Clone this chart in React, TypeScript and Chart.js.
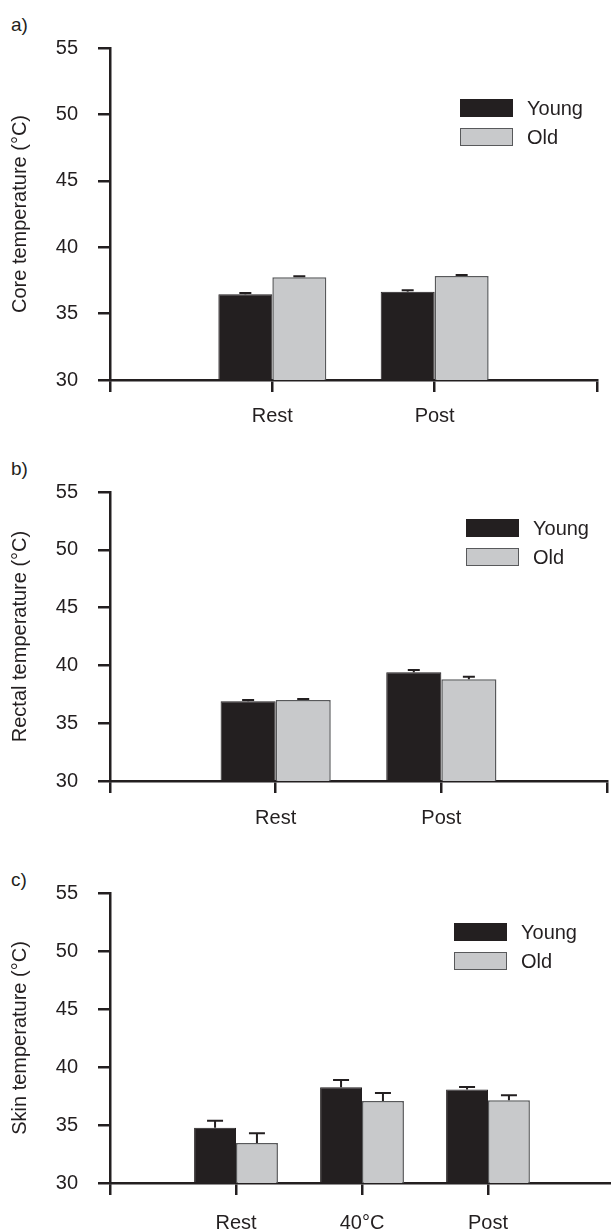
import React, { useEffect, useRef } from 'react';
import { Chart, registerables } from 'chart.js';

Chart.register(...registerables);

// ---------- data ----------
const seriesNames = ['Young', 'Old'];
const yTicks = [30, 35, 40, 45, 50, 55];

const coreCategories = ['Rest', 'Post'];
const coreYoung = [36.45, 36.65];
const coreOld = [37.73, 37.83];
const coreYoungErr = [0.1, 0.1];
const coreOldErr = [0.08, 0.08];

const rectalCategories = ['Rest', 'Post'];
const rectalYoung = [36.9, 39.4];
const rectalOld = [37.0, 38.8];
const rectalYoungErr = [0.1, 0.2];
const rectalOldErr = [0.1, 0.22];

const skinCategories = ['Rest', '40°C', 'Post'];
const skinYoung = [34.77, 38.25, 38.07];
const skinOld = [33.45, 37.06, 37.14];
const skinYoungErr = [0.6, 0.63, 0.2];
const skinOldErr = [0.83, 0.7, 0.43];

// ---------- style ----------
const INK = '#231f20';
const OLD_FILL = '#c8c9cb';
const OLD_BORDER = '#58595b';
const FONT = 'Liberation Sans, Arial, Helvetica, sans-serif';

const errorBarPlugin = {
  id: 'errorBars',
  afterDatasetsDraw(chart: any, _args: any, opts: any) {
    const ctx = chart.ctx;
    const yScale = chart.scales.y;
    const cap = (opts && opts.capWidth) || 14;
    chart.data.datasets.forEach((ds: any, i: number) => {
      const meta = chart.getDatasetMeta(i);
      const errs = ds.errors || [];
      meta.data.forEach((el: any, j: number) => {
        const v = ds.data[j];
        const e = errs[j];
        if (v == null || e == null) return;
        const top = yScale.getPixelForValue(v);
        const end = yScale.getPixelForValue(v + e);
        ctx.save();
        ctx.strokeStyle = INK;
        ctx.lineWidth = 2;
        ctx.beginPath();
        ctx.moveTo(el.x, top);
        ctx.lineTo(el.x, end);
        ctx.moveTo(el.x - cap / 2, end);
        ctx.lineTo(el.x + cap / 2, end);
        ctx.stroke();
        ctx.restore();
      });
    });
  },
};

type PanelProps = {
  letter: string;
  letterTop: number;
  title: string;
  categories: string[];
  young: number[];
  old: number[];
  youngErr: number[];
  oldErr: number[];
  canvasTop: number;
  plotHeight: number;
  canvasWidth: number;
  padRight: number;
  capWidth: number;
  labelPad: number;
  legendLeft: number;
  legendTop: number;
};

const TOP_SPACE = 32; // space Chart.js keeps above the plot area
const X_AXIS_H = 60;
const Y_AXIS_W = 110;

function Panel(p: PanelProps) {
  const ref = useRef<HTMLCanvasElement>(null);
  const height = TOP_SPACE + p.plotHeight + X_AXIS_H;

  useEffect(() => {
    if (!ref.current) return;
    const labels = ['', ...p.categories, ''];
    const pad = (arr: number[]) => [null, ...arr, null];
    const chart = new Chart(ref.current, {
      type: 'bar',
      data: {
        labels,
        datasets: [
          {
            label: seriesNames[0],
            data: pad(p.young) as any,
            errors: pad(p.youngErr),
            backgroundColor: INK,
            borderColor: INK,
            borderWidth: 1,
            categoryPercentage: 0.665,
            barPercentage: 1,
          } as any,
          {
            label: seriesNames[1],
            data: pad(p.old) as any,
            errors: pad(p.oldErr),
            backgroundColor: OLD_FILL,
            borderColor: OLD_BORDER,
            borderWidth: 1.5,
            categoryPercentage: 0.665,
            barPercentage: 1,
          } as any,
        ],
      },
      plugins: [errorBarPlugin as any],
      options: {
        animation: false,
        responsive: false,
        maintainAspectRatio: false,
        devicePixelRatio: 1,
        layout: { padding: { top: 8, left: 0, right: p.padRight, bottom: 0 } },
        plugins: {
          legend: { display: false },
          tooltip: { enabled: false },
          errorBars: { capWidth: p.capWidth },
        } as any,
        scales: {
          x: {
            type: 'category',
            offset: false,
            z: 1,
            grid: {
              offset: false,
              display: true,
              drawOnChartArea: false,
              drawTicks: true,
              tickLength: 12,
              color: INK,
              lineWidth: 2.5,
            },
            border: { display: true, color: INK, width: 2.5 },
            ticks: {
              autoSkip: false,
              maxRotation: 0,
              padding: p.labelPad,
              color: INK,
              font: { family: FONT, size: 20 },
            },
            afterFit: (scale: any) => {
              scale.height = X_AXIS_H;
            },
          },
          y: {
            type: 'linear',
            min: yTicks[0],
            max: yTicks[yTicks.length - 1],
            z: 1,
            afterBuildTicks: (scale: any) => {
              scale.ticks = yTicks.map((v) => ({ value: v }));
            },
            grid: {
              display: true,
              drawOnChartArea: false,
              drawTicks: true,
              tickLength: 12,
              color: INK,
              lineWidth: 2.5,
            },
            border: { display: true, color: INK, width: 2.5 },
            ticks: {
              padding: 20,
              color: INK,
              font: { family: FONT, size: 20 },
            },
            title: {
              display: true,
              text: p.title,
              color: INK,
              font: { family: FONT, size: 20 },
              padding: { top: 8, bottom: 0 },
            },
            afterFit: (scale: any) => {
              scale.width = Y_AXIS_W;
            },
          },
        },
      } as any,
    });
    return () => chart.destroy();
  }, []);

  const legendItem = (name: string, idx: number) => (
    <div
      key={name}
      style={{
        position: 'absolute',
        left: p.legendLeft,
        top: p.legendTop + idx * 29,
        height: 18,
        display: 'flex',
        alignItems: 'center',
      }}
    >
      <div
        style={{
          width: idx === 0 ? 53 : 51,
          height: idx === 0 ? 18 : 16,
          background: idx === 0 ? INK : OLD_FILL,
          border: idx === 0 ? 'none' : `1.5px solid ${OLD_BORDER}`,
        }}
      />
      <span
        style={{
          marginLeft: 14,
          fontFamily: FONT,
          fontSize: 20,
          lineHeight: '18px',
          color: INK,
          whiteSpace: 'nowrap',
        }}
      >
        {name}
      </span>
    </div>
  );

  return (
    <>
      <div
        style={{
          position: 'absolute',
          left: 11,
          top: p.letterTop,
          fontFamily: FONT,
          fontSize: 19,
          lineHeight: '20px',
          color: INK,
        }}
      >
        {p.letter}
      </div>
      <canvas
        ref={ref}
        width={p.canvasWidth}
        height={height}
        style={{
          position: 'absolute',
          left: 0,
          top: p.canvasTop,
          width: p.canvasWidth,
          height,
        }}
      />
      {seriesNames.map((n, i) => legendItem(n, i))}
    </>
  );
}

export default function App() {
  return (
    <div
      style={{
        position: 'absolute',
        left: 0,
        top: 0,
        width: 611,
        height: 1230,
        overflow: 'hidden',
        background: '#ffffff',
      }}
    >
      <Panel
        letter="a)"
        letterTop={15}
        title="Core temperature (°C)"
        categories={coreCategories}
        young={coreYoung}
        old={coreOld}
        youngErr={coreYoungErr}
        oldErr={coreOldErr}
        canvasTop={16}
        plotHeight={332}
        canvasWidth={611}
        padRight={14}
        capWidth={12}
        labelPad={12}
        legendLeft={460}
        legendTop={99}
      />
      <Panel
        letter="b)"
        letterTop={459}
        title="Rectal temperature (°C)"
        categories={rectalCategories}
        young={rectalYoung}
        old={rectalOld}
        youngErr={rectalYoungErr}
        oldErr={rectalOldErr}
        canvasTop={460}
        plotHeight={289}
        canvasWidth={620}
        padRight={8}
        capWidth={12}
        labelPad={13}
        legendLeft={466}
        legendTop={519}
      />
      <Panel
        letter="c)"
        letterTop={870}
        title="Skin temperature (°C)"
        categories={skinCategories}
        young={skinYoung}
        old={skinOld}
        youngErr={skinYoungErr}
        oldErr={skinOldErr}
        canvasTop={861}
        plotHeight={290}
        canvasWidth={630}
        padRight={10}
        capWidth={16}
        labelPad={16}
        legendLeft={454}
        legendTop={923}
      />
    </div>
  );
}
